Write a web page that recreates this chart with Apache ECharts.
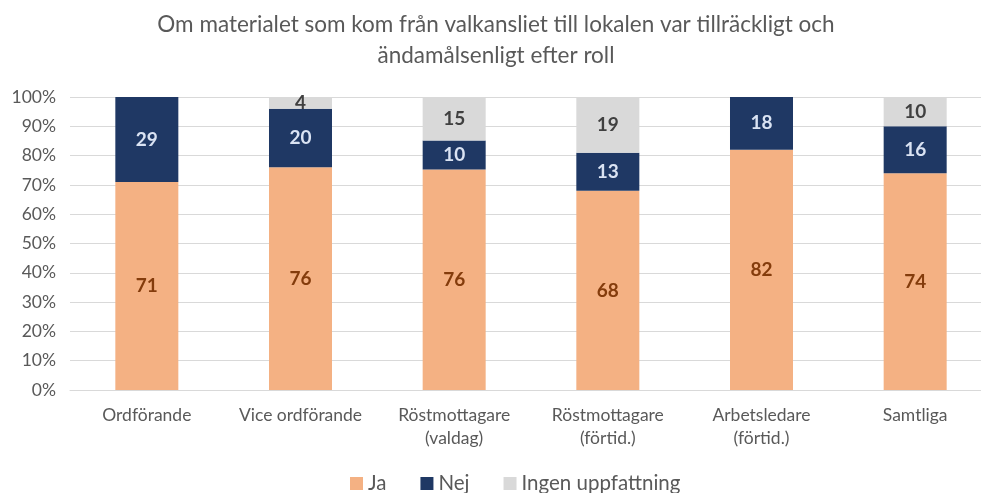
<!DOCTYPE html>
<html>
<head>
<meta charset="utf-8">
<script src="https://cdn.jsdelivr.net/npm/echarts@6/dist/echarts.min.js"></script>
<style>
html,body{margin:0;padding:0;background:#fff;overflow:hidden;}
#chart{width:992px;height:493px;}
</style>
</head>
<body>
<div id="chart"></div>
<script>
var categories = ['Ordförande', 'Vice ordförande', 'Röstmottagare\n(valdag)', 'Röstmottagare\n(förtid.)', 'Arbetsledare\n(förtid.)', 'Samtliga'];
var ja = [71, 76, 76, 68, 82, 74];
var nej = [29, 20, 10, 13, 18, 16];
var ingen = [0, 4, 15, 19, 0, 10];
var yTicks = [0, 10, 20, 30, 40, 50, 60, 70, 80, 90, 100];

var font = 'Lato, "Open Sans", sans-serif';

// andel av radsumman, etiketten visar ursprungsvärdet
function shares(arr) {
	return arr.map(function (v, i) {
		var total = ja[i] + nej[i] + ingen[i];
		return { value: v / total * 100, raw: v };
	});
}

function labelOf(color) {
	return {
		show: true,
		position: 'inside',
		color: color,
		fontFamily: font,
		fontWeight: 'bold',
		fontSize: 19,
		formatter: function (p) { return p.data.raw ? p.data.raw : ''; }
	};
}

var dom = document.getElementById('chart');
var myChart = echarts.init(dom);
var option = {
	textStyle: { fontFamily: font },
	title: {
		text: 'Om materialet som kom från valkansliet till lokalen var tillräckligt och\nändamålsenligt efter roll',
		left: 'center',
		top: 4,
		textStyle: { color: '#595959', fontSize: 22.5, fontWeight: 'normal', lineHeight: 31, fontFamily: font }
	},
	legend: {
		bottom: -6,
		left: 345,
		itemWidth: 13,
		itemHeight: 13,
		itemGap: 34,
		icon: 'rect',
		textStyle: { color: '#595959', fontSize: 20.5, fontFamily: font },
		data: ['Ja', 'Nej', 'Ingen uppfattning']
	},
	grid: {
		left: 70,
		right: 0,
		top: 97,
		bottom: 103,
		containLabel: false
	},
	xAxis: {
		type: 'category',
		data: categories,
		axisLine: { show: true, lineStyle: { color: '#d9d9d9', width: 1 } },
		axisTick: { show: false },
		axisLabel: { interval: 0, color: '#595959', fontSize: 17.5, margin: 14, lineHeight: 23, fontFamily: font }
	},
	yAxis: {
		type: 'value',
		min: 0,
		max: 100,
		interval: 10,
		axisLine: { show: false },
		axisTick: { show: false },
		splitLine: { lineStyle: { color: '#d9d9d9', width: 1 } },
		axisLabel: {
			color: '#595959',
			fontSize: 17.5,
			margin: 14,
			fontFamily: font,
			formatter: function (v) { return yTicks.indexOf(v) >= 0 ? v + '%' : ''; }
		}
	},
	series: [
		{
			name: 'Ja',
			type: 'bar',
			stack: 'roll',
			barWidth: '41%',
			itemStyle: { color: '#f4b183' },
			label: labelOf('#843c0c'),
			data: shares(ja)
		},
		{
			name: 'Nej',
			type: 'bar',
			stack: 'roll',
			itemStyle: { color: '#1f3864' },
			label: labelOf('#dae3f3'),
			data: shares(nej)
		},
		{
			name: 'Ingen uppfattning',
			type: 'bar',
			stack: 'roll',
			itemStyle: { color: '#d9d9d9' },
			label: labelOf('#404040'),
			data: shares(ingen)
		}
	]
};
if (option && typeof option === "object") {
	myChart.setOption(option, true);
}
</script>
</body>
</html>
